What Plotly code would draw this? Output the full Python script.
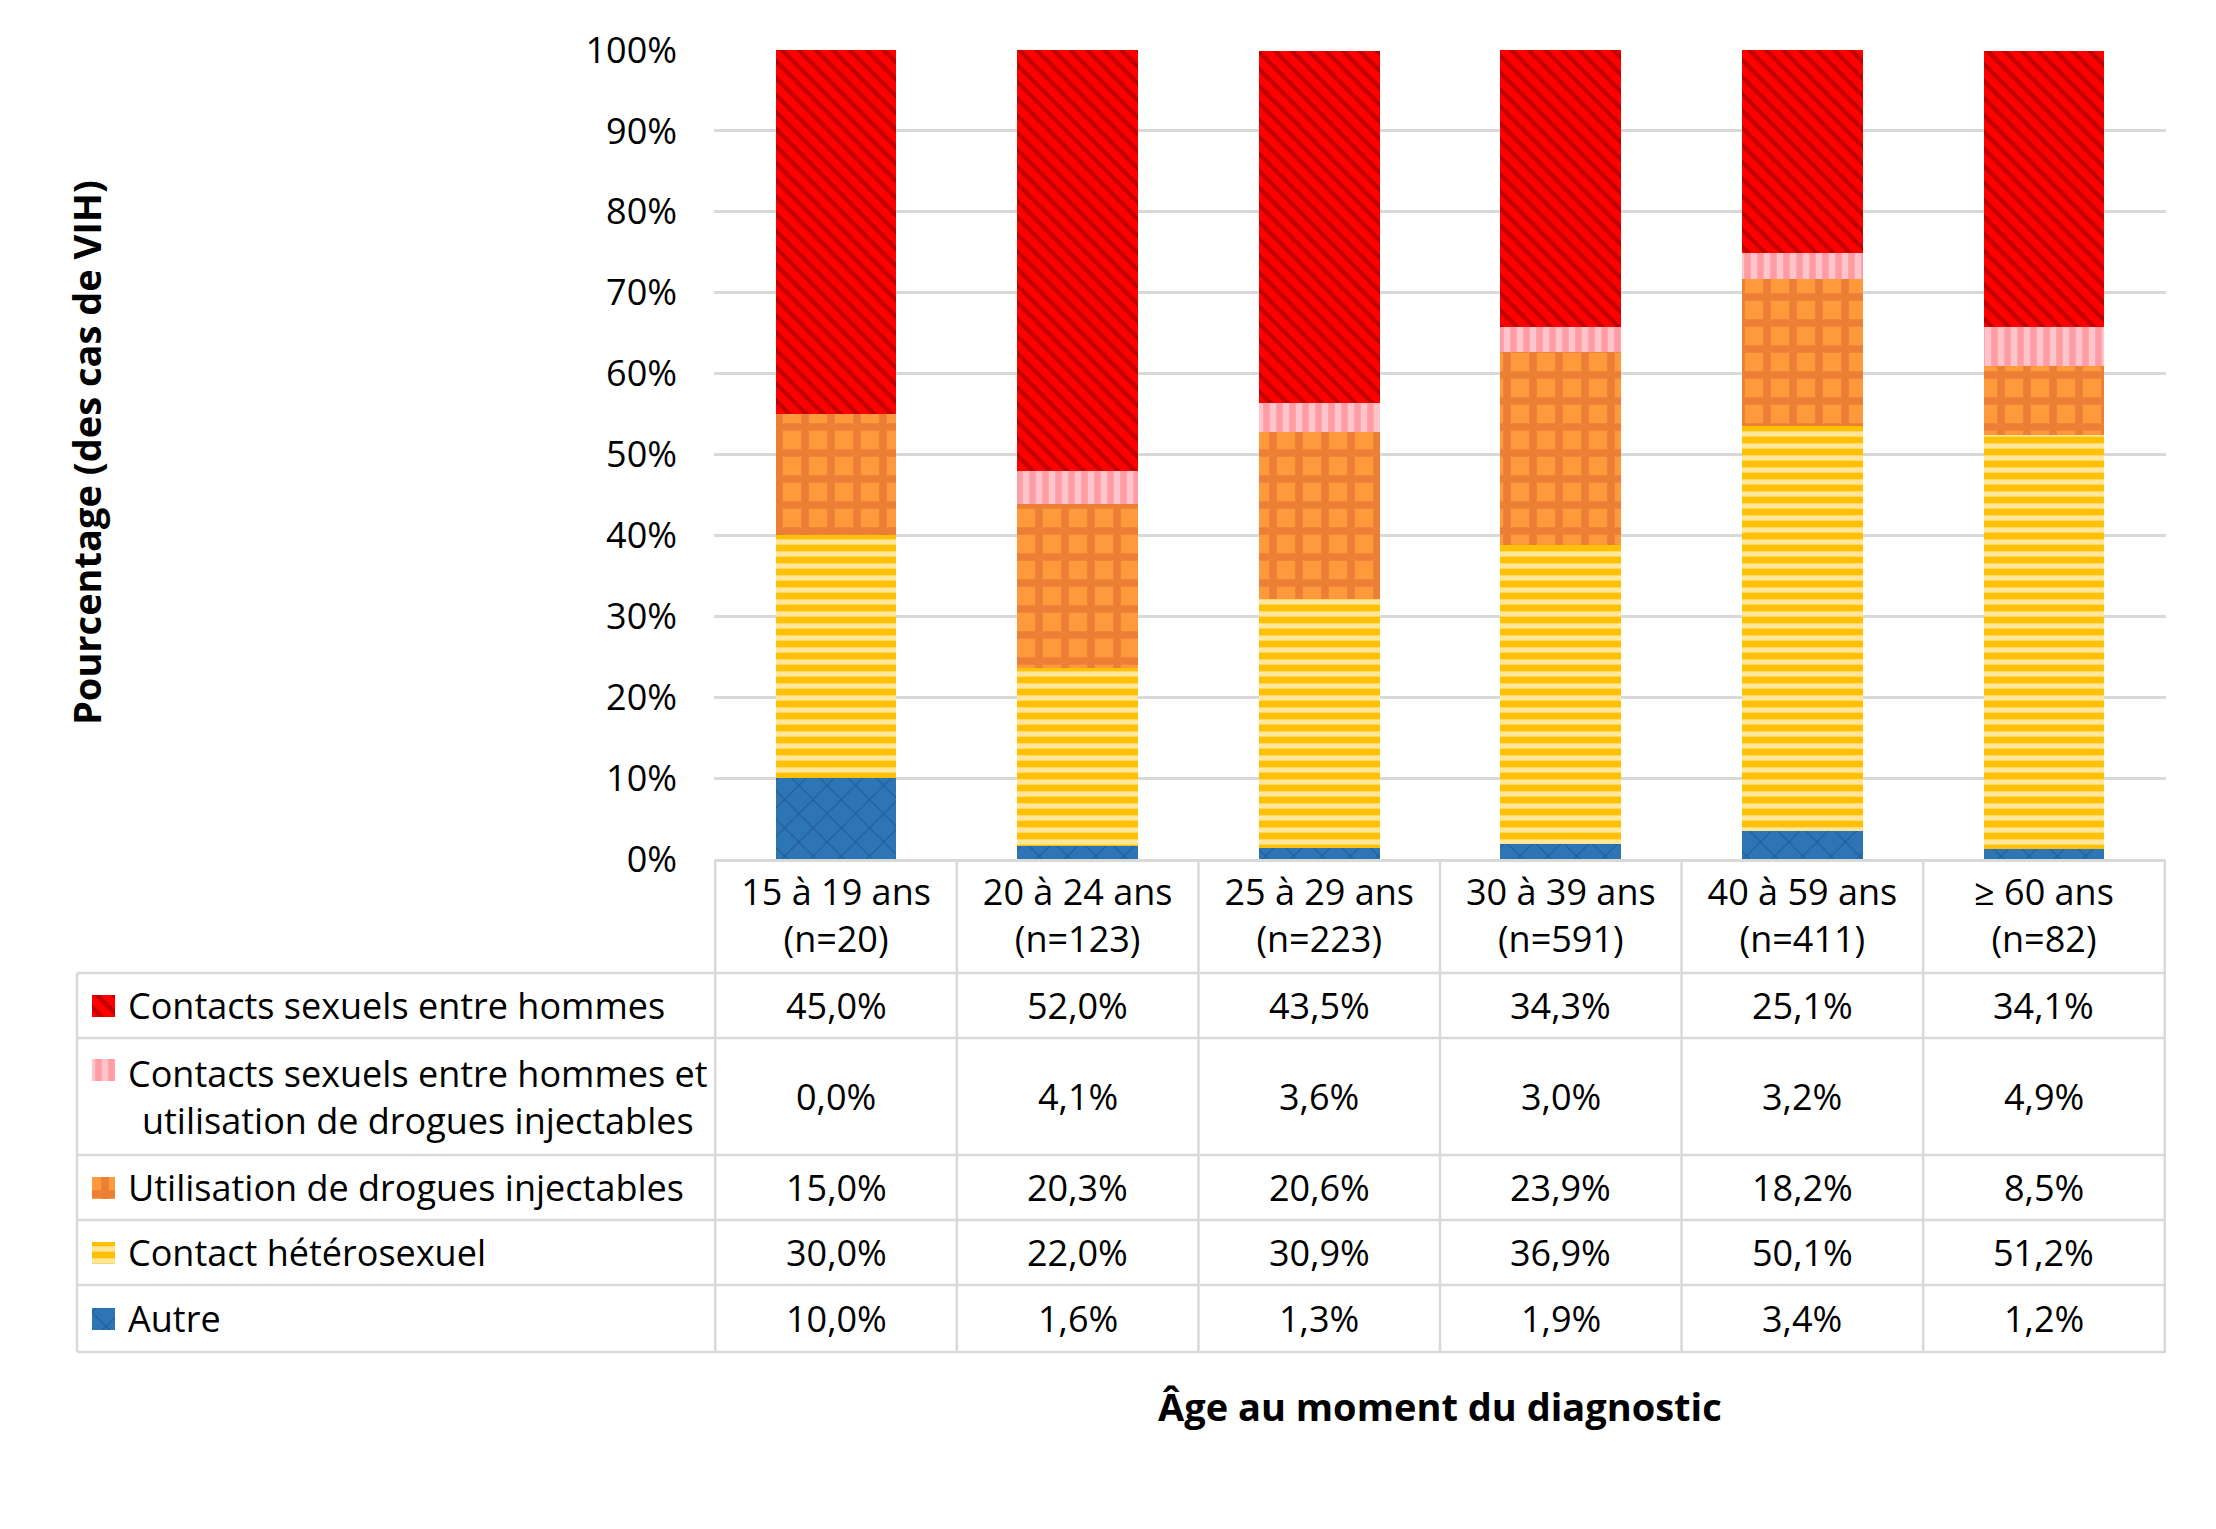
import plotly.graph_objects as go

# ---------------- data ----------------
categories = ["15 à 19 ans<br>(n=20)", "20 à 24 ans<br>(n=123)", "25 à 29 ans<br>(n=223)",
              "30 à 39 ans<br>(n=591)", "40 à 59 ans<br>(n=411)", "≥ 60 ans<br>(n=82)"]

series_names = [
    "Contacts sexuels entre hommes",
    "Contacts sexuels entre hommes et<br>utilisation de drogues injectables",
    "Utilisation de drogues injectables",
    "Contact hétérosexuel",
    "Autre",
]
harsah = [45.0, 52.0, 43.5, 34.3, 25.1, 34.1]
harsah_udi = [0.0, 4.1, 3.6, 3.0, 3.2, 4.9]
udi = [15.0, 20.3, 20.6, 23.9, 18.2, 8.5]
hetero = [30.0, 22.0, 30.9, 36.9, 50.1, 51.2]
autre = [10.0, 1.6, 1.3, 1.9, 3.4, 1.2]
series_values = [harsah, harsah_udi, udi, hetero, autre]

y_ticks = list(range(0, 101, 10))

# ---------------- geometry (pixels) ----------------
W, H = 2216, 1529
OFF = 8  # page body margin
PL, PR, PT, PB = 714, 2166, 50, 859
TABLE_LEFT = 77
row_lines = [973, 1038, 1155, 1220, 1285, 1352]
row_centers = [(row_lines[i] + row_lines[i + 1]) / 2 for i in range(5)]
label_line_centers = [row_centers[0], 1070, row_centers[2], row_centers[3], row_centers[4]]
KEY_L, KEY_R, KEY_S = 92, 115, 22
FONT = "Open Sans"


def X(px):
    return (px - OFF) / W


def Y(py):
    return 1 - (py - OFF) / H


styles = [
    dict(bg="#FF0000", fg="#C00000", shape="\\", size=12, solidity=0.35),
    dict(bg="#FFC4CA", fg="#FF9CA3", shape="|", size=13, solidity=0.5),
    dict(bg="#FF9A3C", fg="#EC7F35", shape="+", size=26, solidity=0.5),
    dict(bg="#FFE699", fg="#FFC000", shape="-", size=12, solidity=0.55),
    dict(bg="#2E75B6", fg="#1F5A92", shape="x", size=20, solidity=0.1),
]


def pattern(st):
    return dict(shape=st["shape"], fgcolor=st["fg"], bgcolor=st["bg"],
                size=st["size"], solidity=st["solidity"], fillmode="replace")


fig = go.Figure()
# stack bottom -> top: Autre, hetero, UDI, HARSAH-UDI, HARSAH
for i in reversed(range(5)):
    st = styles[i]
    fig.add_bar(
        x=categories, y=series_values[i], name=series_names[i].replace("<br>", " "),
        marker=dict(color=st["bg"], line=dict(width=0), pattern=pattern(st)),
        hovertemplate="%{x}: %{y:.1f}%<extra></extra>",
        xaxis="x", yaxis="y",
    )

# legend keys of the data table (one small patterned square per series)
for i in range(5):
    st = styles[i]
    fig.add_bar(
        x=[1], y=[label_line_centers[i]], base=[0], width=[KEY_S], orientation="h",
        marker=dict(color=st["bg"], line=dict(width=0), pattern=pattern(st)),
        hoverinfo="skip", showlegend=False, xaxis="x2", yaxis="y2",
    )

grid_c = "#D9D9D9"
shapes = []
for py in row_lines:
    shapes.append(dict(type="line", xref="paper", yref="paper", x0=X(TABLE_LEFT), x1=X(PR),
                       y0=Y(py), y1=Y(py), line=dict(color=grid_c, width=2.5)))
shapes.append(dict(type="line", xref="paper", yref="paper", x0=X(TABLE_LEFT), x1=X(TABLE_LEFT),
                   y0=Y(row_lines[0]), y1=Y(row_lines[-1]), line=dict(color=grid_c, width=2.5)))
for j in range(len(categories) + 1):
    shapes.append(dict(type="line", xref="x", yref="paper", x0=j - 0.5, x1=j - 0.5,
                       y0=Y(PB), y1=Y(row_lines[-1]), line=dict(color=grid_c, width=2.5)))

annotations = []
for i, vals in enumerate(series_values):
    for j, v in enumerate(vals):
        annotations.append(dict(x=categories[j], xref="x", y=Y(row_centers[i]), yref="paper",
                                text=f"{v:.1f}".replace(".", ",") + "%", showarrow=False,
                                font=dict(size=36, color="#000000", family=FONT),
                                xanchor="center", yanchor="middle"))
for i, name in enumerate(series_names):
    annotations.append(dict(x=X(126), y=Y(row_centers[i]), xref="paper", yref="paper",
                            text=name, showarrow=False, align="center",
                            font=dict(size=36, color="#000000", family=FONT),
                            xanchor="left", yanchor="middle"))
annotations.append(dict(x=X(86), y=Y(453), xref="paper", yref="paper", textangle=-90,
                        text="<b>Pourcentage (des cas de VIH)</b>", showarrow=False,
                        font=dict(size=38, color="#000000", family=FONT),
                        xanchor="center", yanchor="middle"))
annotations.append(dict(x=(X(PL) + X(PR)) / 2, y=Y(1406), xref="paper", yref="paper",
                        text="<b>Âge au moment du diagnostic</b>", showarrow=False,
                        font=dict(size=38, color="#000000", family=FONT),
                        xanchor="center", yanchor="middle"))

fig.update_layout(
    width=W, height=H, autosize=False,
    margin=dict(l=0, r=0, t=0, b=0, pad=0),
    paper_bgcolor="white", plot_bgcolor="white",
    font=dict(family=FONT, size=36, color="#000000"),
    barmode="stack", bargap=0.5,
    showlegend=False,
    shapes=shapes, annotations=annotations,
    xaxis=dict(domain=[X(PL), X(PR)], anchor="y", type="category", showgrid=False,
               zeroline=False, showline=True, linecolor=grid_c, linewidth=2.5, ticks="",
               tickfont=dict(size=36, color="#000000", family=FONT), automargin=False,
               ticklabelstandoff=0, fixedrange=True),
    yaxis=dict(domain=[Y(PB), Y(PT)], anchor="x", range=[0, 100], tickvals=y_ticks,
               ticktext=[f"{t}%" for t in y_ticks],
               showgrid=True, gridcolor=grid_c, gridwidth=2.5, zeroline=False, showline=False,
               ticks="", tickfont=dict(size=36, color="#000000", family=FONT), automargin=False,
               ticklabelstandoff=36, fixedrange=True),
    xaxis2=dict(domain=[X(KEY_L), X(KEY_R)], anchor="y2", range=[0, 1], visible=False,
                fixedrange=True, automargin=False),
    yaxis2=dict(domain=[Y(row_lines[-1]), Y(row_lines[0])], anchor="x2",
                range=[row_lines[-1], row_lines[0]], visible=False, fixedrange=True,
                automargin=False),
)

fig.write_html("out.html")
